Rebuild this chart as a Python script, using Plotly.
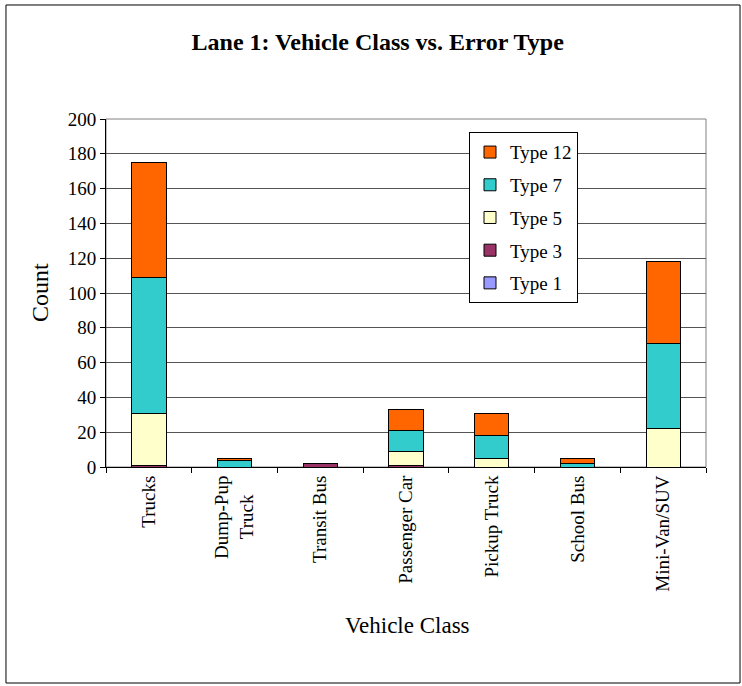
import plotly.graph_objects as go

# Vehicle classes on the x axis
categories = ["Trucks", "Dump-Pup<br>Truck\u00a0\u00a0\u00a0\u00a0", "Transit Bus", "Passenger Car",
              "Pickup Truck", "School Bus", "Mini-Van/SUV"]

# Error counts per type (stacked bottom to top)
type1 = [0, 0, 0, 0, 0, 0, 0]
type3 = [1, 0, 2, 1, 0, 0, 0]
type5 = [30, 0, 0, 8, 5, 0, 22]
type7 = [78, 4, 0, 12, 13, 2, 49]
type12 = [66, 1, 0, 12, 13, 3, 47]

series = [
    ("Type 1", type1, "#9999FF"),
    ("Type 3", type3, "#993366"),
    ("Type 5", type5, "#FFFFCC"),
    ("Type 7", type7, "#33CCCC"),
    ("Type 12", type12, "#FF6600"),
]

FONT = "Liberation Serif, Times New Roman, serif"

fig = go.Figure()
for i, (name, vals, color) in enumerate(series):
    fig.add_trace(go.Bar(
        x=categories, y=vals, name=name, legendgroup=name,
        legendrank=1000 - i,  # top of the stack listed first
        marker=dict(color=color, line=dict(color="#000000", width=1)),
    ))

fig.update_layout(
    width=742, height=686,
    barmode="stack", bargap=0.6,
    margin=dict(l=106, r=36, t=119, b=219),
    paper_bgcolor="white", plot_bgcolor="white",
    font=dict(family=FONT, size=19, color="black"),
    title=dict(text="<b>Lane 1: Vehicle Class vs. Error Type</b>",
               x=0.509, xanchor="center", y=1 - 42 / 686, yanchor="middle",
               font=dict(family=FONT, size=24, color="black")),
    legend=dict(x=0.605, y=0.962, xanchor="left", yanchor="top",
                traceorder="grouped", tracegroupgap=5, itemwidth=30,
                bordercolor="#000000", borderwidth=1, bgcolor="white",
                font=dict(family=FONT, size=19, color="black")),
    showlegend=True,
)

fig.update_yaxes(
    range=[0, 200], dtick=20, showgrid=True, gridcolor="#555555", gridwidth=1,
    showline=True, linecolor="black", linewidth=1,
    ticks="outside", ticklen=5, tickcolor="black",
    tickfont=dict(family=FONT, size=19, color="black"),
    zeroline=False,
)
fig.update_xaxes(
    showline=True, linecolor="black", linewidth=1,
    ticks="outside", ticklen=5, tickcolor="black", tickson="boundaries",
    tickangle=-90, tickfont=dict(family=FONT, size=19, color="black"),
)

# Plot area frame (top and right edges)
fig.add_shape(type="rect", xref="paper", yref="paper", x0=0, x1=1, y0=0, y1=1,
              line=dict(color="#808080", width=1), layer="below")
# Outer chart border
fig.add_shape(type="rect", xref="paper", yref="paper",
              x0=-0.1667, x1=1.0567, y0=-0.6207, y1=1.3276,
              line=dict(color="#000000", width=1))

# Axis titles
fig.add_annotation(text="Count", xref="paper", yref="paper",
                   x=(40 - 106) / 600, y=(467 - 293) / 348, textangle=-90,
                   showarrow=False, xanchor="center", yanchor="middle",
                   font=dict(family=FONT, size=24, color="black"))
fig.add_annotation(text="Vehicle Class", xref="paper", yref="paper",
                   x=(407 - 106) / 600, y=(467 - 625) / 348,
                   showarrow=False, xanchor="center", yanchor="middle",
                   font=dict(family=FONT, size=23, color="black"))

fig.write_html("out.html")
